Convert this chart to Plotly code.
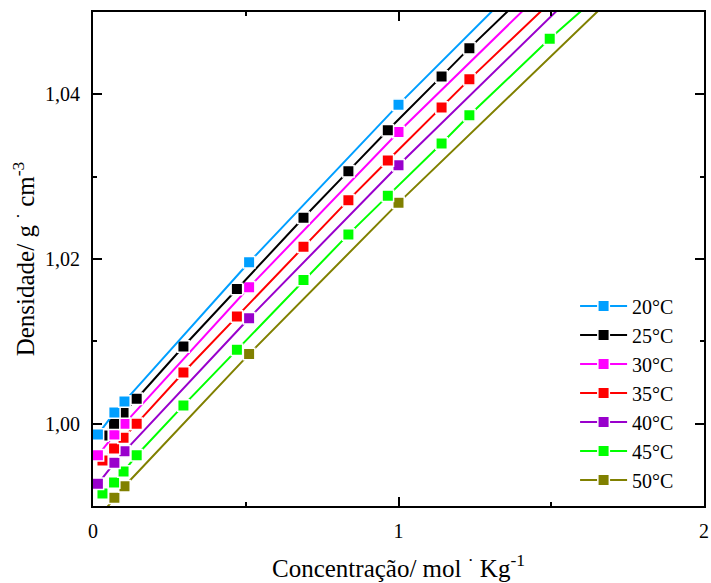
import plotly.graph_objects as go

# Molalities (mol/kg) of the two measurement series
conc_a = [0.016, 0.070, 0.103, 0.511, 1.000, 2.000]
conc_b = [0.031, 0.069, 0.100, 0.143, 0.296, 0.471, 0.689, 0.836,
          0.965, 1.141, 1.232, 1.495, 2.000]

# Densities (g/cm3) per temperature
dens_20 = [0.99867, 1.00137, 1.00270, 1.01960, 1.03875, 1.0758]
dens_30 = [0.99616, 0.99867, 1.00000, 1.01657, 1.03543, 1.0716]
dens_40 = [0.99269, 0.99524, 0.99664, 1.01281, 1.03139, 1.0676]
dens_50 = [0.98850, 0.99099, 0.99240, 1.00845, 1.02682, 1.0625]
dens_25 = [0.99855, 1.00000, 1.00137, 1.00303, 1.00937, 1.01636, 1.02501,
           1.03067, 1.03564, 1.04218, 1.04561, 1.05500, 1.0728]
dens_35 = [0.99552, 0.99697, 0.99830, 1.00000, 1.00622, 1.01301, 1.02149,
           1.02715, 1.03196, 1.03839, 1.04182, 1.05110, 1.0690]
dens_45 = [0.99152, 0.99285, 0.99418, 0.99616, 1.00222, 1.00897, 1.01745,
           1.02299, 1.02767, 1.03402, 1.03745, 1.04675, 1.0633]

labels = ["20°C", "25°C", "30°C", "35°C", "40°C", "45°C", "50°C"]
colors = ["#009FFF", "#000000", "#FF00FF", "#FF0000", "#9900CC", "#00FF00", "#808000"]
xs = [conc_a, conc_b, conc_a, conc_b, conc_a, conc_b, conc_a]
ys = [dens_20, dens_25, dens_30, dens_35, dens_40, dens_45, dens_50]

SERIF = "Liberation Serif"

fig = go.Figure()
# add the warmest series first so the cooler ones sit on top
for lab, col, x, y in reversed(list(zip(labels, colors, xs, ys))):
    fig.add_trace(go.Scatter(
        x=x, y=y, name=lab, mode="lines+markers",
        line=dict(color=col, width=2),
        marker=dict(symbol="square", size=11.5, color=col,
                    line=dict(color="white", width=1.5)),
    ))

axis_common = dict(
    showline=True, linewidth=2, linecolor="black", mirror="ticks",
    ticks="inside", tickwidth=2, tickcolor="black", ticklen=9,
    showgrid=False, zeroline=False,
    tickfont=dict(family=SERIF, size=20, color="black"),
)

fig.update_xaxes(
    range=[0, 2], tick0=0, dtick=1,
    minor=dict(dtick=0.5, ticks="inside", ticklen=4, tickwidth=2,
               tickcolor="black", showgrid=False),
    title=dict(text="Concentração/ mol <sup>·</sup> Kg<sup>-1</sup>",
               font=dict(family=SERIF, size=25, color="black"), standoff=18),
    ticklabelstandoff=6, ticklabeloverflow="allow",
    **axis_common,
)
fig.update_yaxes(
    range=[0.990, 1.050], tick0=0.98, dtick=0.02, tickformat=".2f",
    minor=dict(dtick=0.01, ticks="inside", ticklen=4, tickwidth=2,
               tickcolor="black", showgrid=False),
    title=dict(text="Densidade/ g <sup>·</sup> cm<sup>-3</sup>",
               font=dict(family=SERIF, size=25, color="black"), standoff=3),
    ticklabelstandoff=7,
    **axis_common,
)

fig.update_layout(
    width=711, height=583, autosize=False,
    margin=dict(l=93, r=2, t=12, b=77),
    paper_bgcolor="white", plot_bgcolor="white",
    separators=",.",
    showlegend=True,
    legend=dict(
        x=0.789, y=0.4445, xanchor="left", yanchor="top",
        traceorder="reversed", bgcolor="rgba(0,0,0,0)",
        font=dict(family=SERIF, size=20, color="black"),
        itemwidth=47, tracegroupgap=0,
    ),
)

fig.write_html("out.html")
